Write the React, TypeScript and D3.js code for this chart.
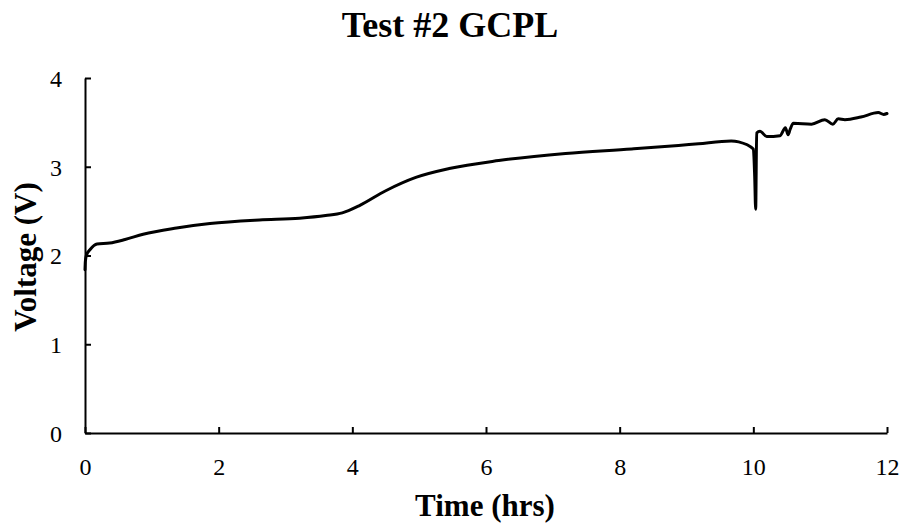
import { useEffect, useRef } from 'react';
import * as d3 from 'd3';

// time (hrs) and voltage (V)
const timeHrs = [
  0, 0.005, 0.02, 0.08, 0.18, 0.37, 0.6, 0.87, 1.37, 1.87, 2.61, 3.21, 3.6, 3.85, 4.1, 4.5,
  4.95, 5.45, 6.19, 7.19, 8.18, 8.88, 9.18, 9.67, 9.78, 10.0, 10.02, 10.035, 10.05, 10.1,
  10.2, 10.4, 10.48, 10.52, 10.55, 10.6, 10.87, 11.07, 11.19, 11.27, 11.37, 11.61, 11.87,
  11.95, 12.0,
];
const voltage = [
  1.84, 1.93, 2.0, 2.07, 2.13, 2.14, 2.18, 2.24, 2.31, 2.36, 2.4, 2.42, 2.45, 2.48, 2.56, 2.73,
  2.88, 2.98, 3.07, 3.15, 3.2, 3.24, 3.26, 3.29, 3.28, 3.2, 2.9, 2.52, 3.38, 3.4,
  3.34, 3.35, 3.44, 3.36, 3.42, 3.49, 3.48, 3.53, 3.48, 3.54, 3.53, 3.56, 3.61,
  3.59, 3.6,
];
const xTicks = [0, 2, 4, 6, 8, 10, 12];
const yTicks = [0, 1, 2, 3, 4];

const W = 902;
const H = 525;

export default function App() {
  const ref = useRef<SVGSVGElement>(null);

  useEffect(() => {
    const margin = { top: 78, right: 15, bottom: 92, left: 85 };
    const width = W - margin.left - margin.right;
    const height = H - margin.top - margin.bottom;

    const svg = d3.select(ref.current);
    svg.selectAll('*').remove();

    const g = svg
      .append('g')
      .attr('transform', 'translate(' + margin.left + ',' + margin.top + ')');

    const x = d3.scaleLinear().domain([0, 12]).range([0, width]);
    const y = d3.scaleLinear().domain([0, 4]).range([height, 0]);

    const font = '"Liberation Serif", "Times New Roman", serif';

    // x axis, ticks pointing in
    const xAxis = g
      .append('g')
      .attr('transform', 'translate(0,' + height + ')')
      .call(
        d3.axisBottom(x).tickValues(xTicks).tickFormat(d3.format('d'))
          .tickSizeInner(-6).tickSizeOuter(0).tickPadding(25)
      );
    // y axis
    const yAxis = g
      .append('g')
      .call(
        d3.axisLeft(y).tickValues(yTicks).tickFormat(d3.format('d'))
          .tickSizeInner(-6).tickSizeOuter(0).tickPadding(23)
      );

    [xAxis, yAxis].forEach((a) => {
      a.attr('font-size', null).attr('font-family', null);
      a.select('.domain').attr('stroke', '#000').attr('stroke-width', 2);
      a.selectAll('.tick line').attr('stroke', '#000').attr('stroke-width', 2);
      a.selectAll('.tick text')
        .style('font-family', font)
        .style('font-size', '24px')
        .attr('fill', '#000');
    });
    yAxis.selectAll('.tick text').attr('dy', '0.35em');

    const line = d3
      .line<number>()
      .x((_, i) => x(timeHrs[i]))
      .y((d) => y(d))
      .curve(d3.curveMonotoneX);

    g.append('path')
      .datum(voltage)
      .attr('fill', 'none')
      .attr('stroke', '#000')
      .attr('stroke-width', 3)
      .attr('stroke-linejoin', 'round')
      .attr('stroke-linecap', 'round')
      .attr('d', line);

    // title
    svg
      .append('text')
      .attr('x', 450)
      .attr('y', 37)
      .attr('text-anchor', 'middle')
      .style('font-family', font)
      .style('font-weight', 'bold')
      .style('font-size', '36px')
      .text('Test #2 GCPL');

    svg
      .append('text')
      .attr('x', 485)
      .attr('y', 516)
      .attr('text-anchor', 'middle')
      .style('font-family', font)
      .style('font-weight', 'bold')
      .style('font-size', '31px')
      .text('Time (hrs)');

    svg
      .append('text')
      .attr('transform', 'translate(36,257) rotate(-90)')
      .attr('text-anchor', 'middle')
      .style('font-family', font)
      .style('font-weight', 'bold')
      .style('font-size', '31px')
      .text('Voltage (V)');
  }, []);

  return (
    <svg
      ref={ref}
      width={W}
      height={H}
      style={{ position: 'absolute', left: 0, top: 0, background: '#fff' }}
    />
  );
}
